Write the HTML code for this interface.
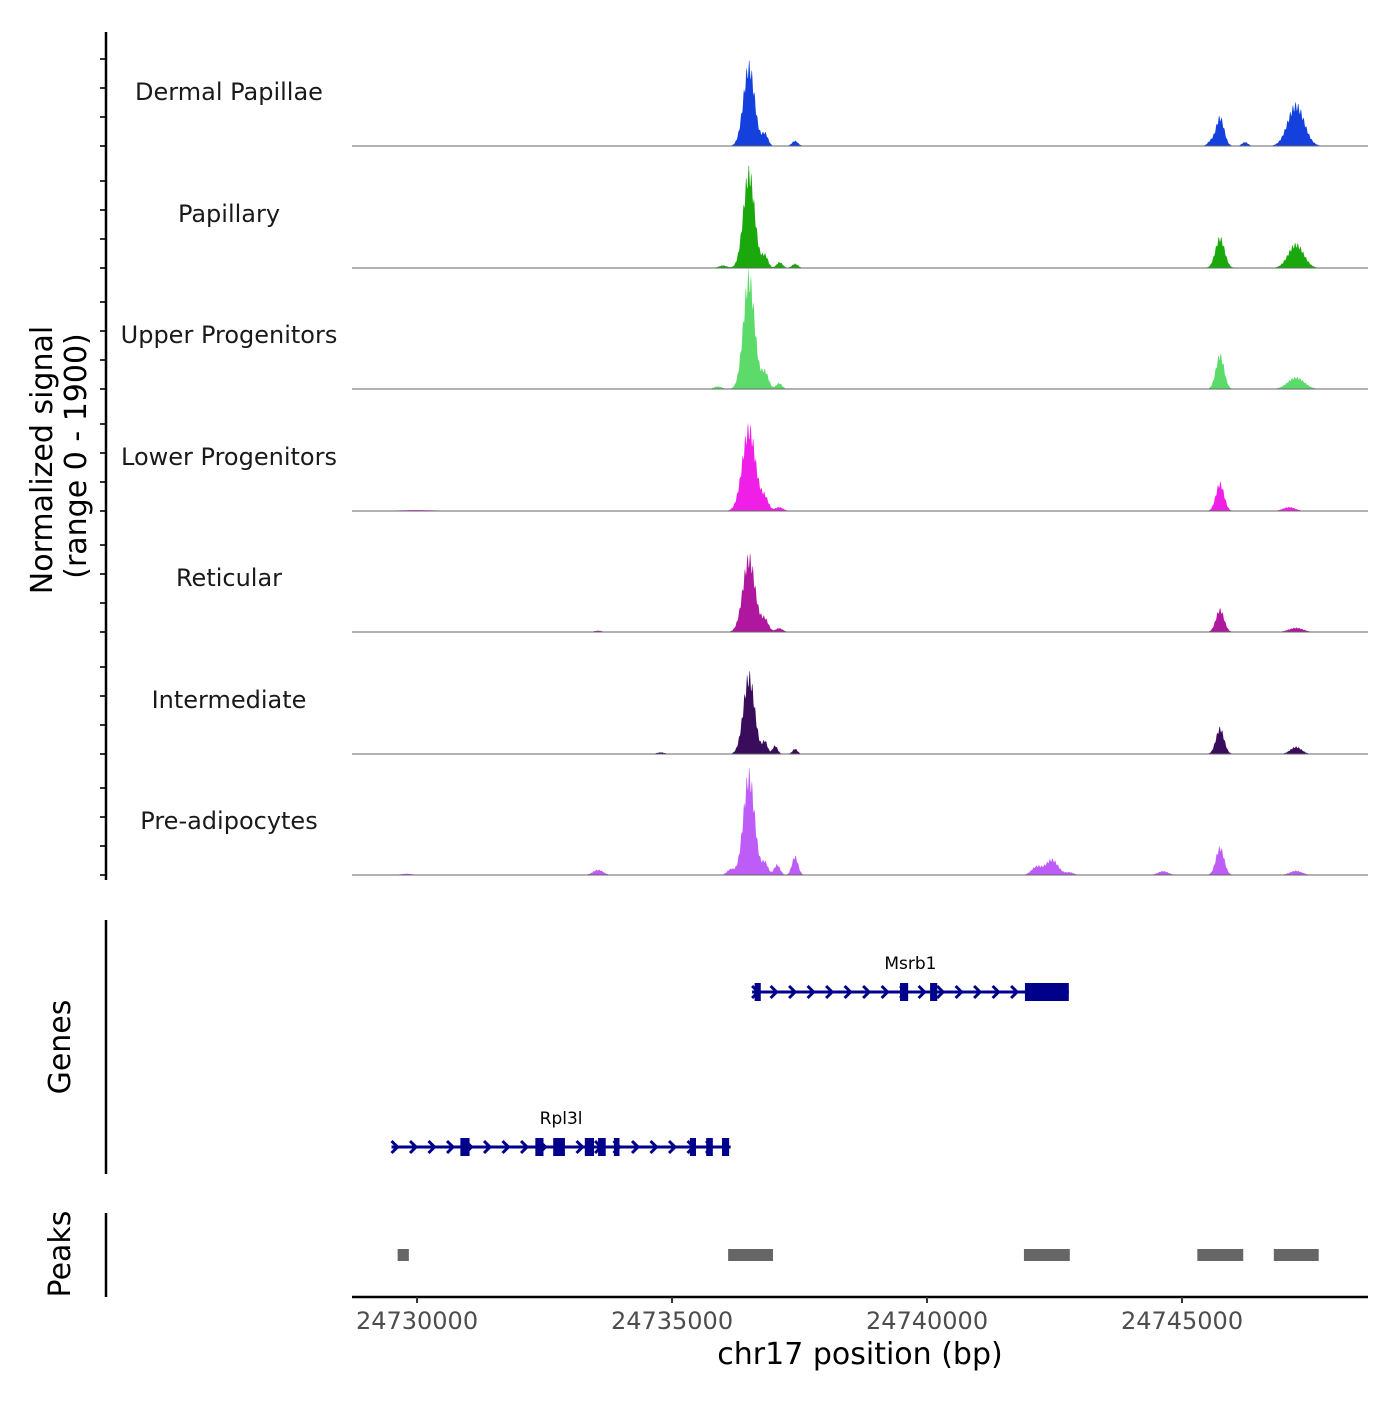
<!DOCTYPE html>
<html><head><meta charset="utf-8"><style>
body{margin:0;background:#fff;}
svg text{font-family:"DejaVu Sans","Liberation Sans",sans-serif;}
</style></head><body>
<svg id="c" width="1400" height="1400" viewBox="0 0 1400 1400" xmlns="http://www.w3.org/2000/svg">
<rect width="1400" height="1400" fill="#fff"/>
</svg>
<script>
// ---- data ----
const trackNames = ["Dermal Papillae","Papillary","Upper Progenitors","Lower Progenitors","Reticular","Intermediate","Pre-adipocytes"];
const trackColors = ["#1440DD","#1BA80D","#5CDB6B","#F01FE8","#B0179F","#3A0C5C","#BE5CF7"];
// peaks per track: [center bp, signal (0-1900), sigma bp]
const peaksT1 = [[24736510,1250,110],[24736824,190,60],[24737412,80,60],[24745745,450,80],[24747235,640,160],[24746235,60,60],[24745560,70,60]];
const peaksT2 = [[24736510,1500,110],[24736824,190,60],[24737110,90,60],[24737412,65,60],[24745745,470,90],[24747235,370,150],[24736000,40,80]];
const peaksT3 = [[24736510,1750,110],[24736824,260,70],[24737100,90,60],[24745745,530,80],[24747235,180,160],[24735900,40,80]];
const peaksT4 = [[24736510,1290,130],[24736824,190,70],[24737100,60,80],[24745745,430,80],[24747100,60,120],[24730000,15,400]];
const peaksT5 = [[24736510,1160,120],[24736824,190,70],[24737100,60,70],[24745745,350,80],[24747235,65,140],[24733550,20,80]];
const peaksT6 = [[24736510,1220,110],[24736824,190,50],[24737020,130,50],[24737412,80,50],[24745745,400,80],[24747235,110,110],[24734780,25,80]];
const peaksT7 = [[24736510,1560,110],[24736824,190,60],[24737060,160,60],[24737412,290,60],[24736150,90,70],[24733550,80,100],[24742450,240,120],[24742150,130,100],[24742800,40,80],[24744630,60,100],[24745745,430,80],[24747235,65,120],[24729800,20,120]];
const trackPeaks = [peaksT1,peaksT2,peaksT3,peaksT4,peaksT5,peaksT6,peaksT7];
const genes = [
 {name:"Msrb1", start:24736570, end:24742780, row:0,
  exons:[[24736620,24736740],[24739470,24739630],[24740060,24740200],[24741920,24742780]]},
 {name:"Rpl3l", start:24729500, end:24736150, row:1,
  exons:[[24730850,24731030],[24732320,24732480],[24732670,24732900],[24733290,24733470],[24733550,24733700],[24733860,24733970],[24735350,24735470],[24735670,24735800],[24735980,24736120]]}
];
const peakRegions = [[24729620,24729840],[24736100,24736980],[24741900,24742800],[24745300,24746200],[24746800,24747680]];
const xTicks = [24730000,24735000,24740000,24745000];

// ---- scales ----
const X0=352,X1=1368, BP0=24728725, PXPB=0.051;
const xs = bp => X0 + (bp-BP0)*PXPB;
const baselines=[146,268,389,511,632,754,875];
const ys = (i,v) => baselines[i] - v/1900*118;
const NS="http://www.w3.org/2000/svg";
const svg=document.getElementById('c');
function el(tag,attrs,parent){const e=document.createElementNS(NS,tag);for(const k in attrs)e.setAttribute(k,attrs[k]);(parent||svg).appendChild(e);return e;}

// tracks
trackNames.forEach((nm,i)=>{
  const g=el('g',{});
  
  
  const pk=trackPeaks[i];
  let d='M'+X0+','+baselines[i];
  const xEnd=1323;
  for(let px=X0;px<=xEnd;px+=0.5){
    const bp=BP0+(px-X0)/PXPB;
    let v=0;
    for(const p of pk){const z=(bp-p[0])/p[2];v+=p[1]*Math.exp(-0.5*z*z)*(1+0.12*Math.sin(px*2.3+i));}
    d+=' L'+px+','+ys(i,v).toFixed(2);
  }
  d+=' L'+xEnd+','+baselines[i]+' Z';
  const a=el('path',{d:d,fill:trackColors[i],stroke:'none'},g);
  
  
  const bl=el('line',{x1:X0,x2:X1,y1:baselines[i],y2:baselines[i],stroke:'#666','stroke-width':1},g);
  
  
  const t=el('text',{x:229,y:baselines[i]-46,'text-anchor':'middle','font-size':24,fill:'#1a1a1a'},g);
  t.textContent=nm;
  
  
  for(let k=0;k<4;k++){const y=baselines[i]-k*29;el('line',{x1:100,x2:106,y1:y,y2:y,stroke:'#333','stroke-width':2},g);}
});
// left axis
let ax=el('line',{x1:106,x2:106,y1:32,y2:880,stroke:'#000','stroke-width':2.5});

let yt=el('text',{transform:'translate(52,460) rotate(-90)','text-anchor':'middle','font-size':30,fill:'#000'});
yt.textContent='Normalized signal';

let yt2=el('text',{transform:'translate(86,456) rotate(-90)','text-anchor':'middle','font-size':30,fill:'#000'});
yt2.textContent='(range 0 - 1900)';


// genes
let ga=el('line',{x1:106,x2:106,y1:920,y2:1174,stroke:'#000','stroke-width':2.5});

let gt=el('text',{transform:'translate(70,1047) rotate(-90)','text-anchor':'middle','font-size':30,fill:'#000'});
gt.textContent='Genes';
const rowY=[992,1147];
genes.forEach(gn=>{
  const g=el('g',{});
  
  
  const y=rowY[gn.row], x1=xs(gn.start), x2=xs(gn.end);
  el('line',{x1:x1,x2:x2,y1:y,y2:y,stroke:'#00008B','stroke-width':3},g);
  for(let x=x1+4;x<x2-4;x+=18.5){el('path',{d:`M${x-4},${y-6} L${x+2},${y} L${x-4},${y+6}`,fill:'none',stroke:'#00008B','stroke-width':3},g);}
  gn.exons.forEach(e=>{const ex=el('rect',{x:xs(e[0]),y:y-9,width:xs(e[1])-xs(e[0]),height:18,fill:'#00008B'},g);
    });
  const t=el('text',{x:(x1+x2)/2,y:y-23,'text-anchor':'middle','font-size':17,fill:'#000'},g);
  t.textContent=gn.name;
});

// peaks
let pa=el('line',{x1:106,x2:106,y1:1213,y2:1297,stroke:'#000','stroke-width':2.5});

let pt=el('text',{transform:'translate(70,1254) rotate(-90)','text-anchor':'middle','font-size':30,fill:'#000'});
pt.textContent='Peaks';
peakRegions.forEach(p=>{const r=el('rect',{x:xs(p[0]),y:1249,width:xs(p[1])-xs(p[0]),height:12,fill:'#666'});
  });

// x axis
let xa=el('line',{x1:X0,x2:X1,y1:1297,y2:1297,stroke:'#000','stroke-width':2.5});

xTicks.forEach(t=>{const x=xs(t);el('line',{x1:x,x2:x,y1:1297,y2:1303,stroke:'#333','stroke-width':2});
  const tx=el('text',{x:x,y:1329,'text-anchor':'middle','font-size':24,fill:'#4d4d4d'});tx.textContent=t;
  });
let xt=el('text',{x:860,y:1364,'text-anchor':'middle','font-size':30,fill:'#000'});
xt.textContent='chr17 position (bp)';
</script>
</body></html>
